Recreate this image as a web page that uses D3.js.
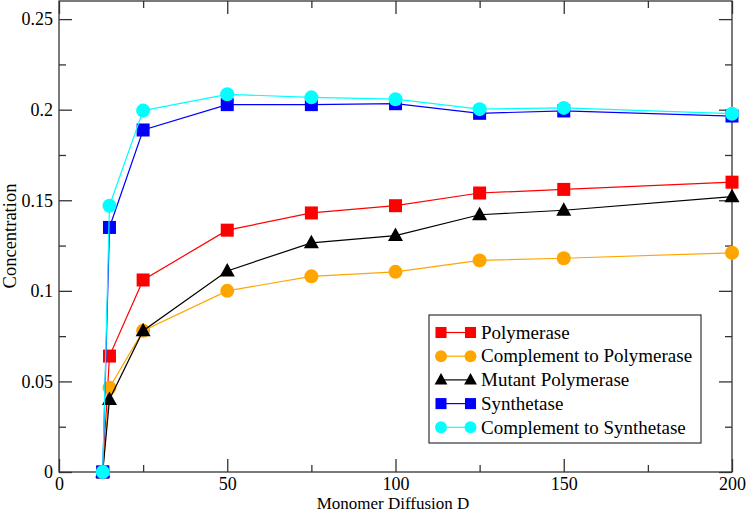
<!DOCTYPE html>
<html><head><meta charset="utf-8">
<script src="https://cdn.jsdelivr.net/npm/d3@7"></script>
<style>body{margin:0;background:#fff}svg{display:block}svg text{font-family:"Liberation Serif",Times,"Times New Roman",serif !important}</style>
</head><body><svg id="c" width="747" height="513"></svg>
<script>
const xValues = [13, 15, 25, 50, 75, 100, 125, 150, 200];
const polymerase = [0, 0.064, 0.106, 0.1335, 0.143, 0.147, 0.154, 0.156, 0.160];
const complementPolymerase = [0, 0.0465, 0.078, 0.100, 0.108, 0.1105, 0.1168, 0.118, 0.121];
const mutantPolymerase = [0, 0.040, 0.078, 0.111, 0.1265, 0.1305, 0.142, 0.1445, 0.152];
const synthetase = [0, 0.135, 0.1888, 0.2028, 0.2028, 0.2033, 0.198, 0.1993, 0.1965];
const complementSynthetase = [0, 0.147, 0.1995, 0.2085, 0.2068, 0.2058, 0.2003, 0.201, 0.1978];
const seriesNames = ["Polymerase", "Complement to Polymerase", "Mutant Polymerase", "Synthetase", "Complement to Synthetase"];
const seriesColors = ["#ff0000", "#ffa500", "#000000", "#0000ff", "#00ffff"];
const seriesShapes = ["square", "circle", "triangle", "square", "circle"];
const xTicks = [0, 50, 100, 150, 200];
const yTicks = [0, 0.05, 0.1, 0.15, 0.2, 0.25];

const seriesData = [polymerase, complementPolymerase, mutantPolymerase, synthetase, complementSynthetase];
const svg = d3.select("#c");
const L = 59, R = 732, T = 1, B = 472;
const x = d3.scaleLinear().domain([0, 200]).range([L, R]);
const y = d3.scaleLinear().domain([0, 0.26]).range([B, T]);
const axisColor = "#333";
const FONT = "Liberation Serif, Times, serif";

// frame
svg.append("rect").attr("x", L).attr("y", T).attr("width", R - L).attr("height", B - T)
  .attr("fill", "none").attr("stroke", axisColor).attr("stroke-width", 1.3);

const xMinor = d3.range(25, 200, 50);
const yMinor = d3.range(0.025, 0.26, 0.05);
function ticks(axisFn, scale, major, minor, tx, fmt) {
  const gMaj = svg.append("g").attr("transform", tx).call(axisFn(scale).tickValues(major).tickSize(13).tickFormat(fmt));
  const gMin = svg.append("g").attr("transform", tx).call(axisFn(scale).tickValues(minor).tickSize(7).tickFormat(""));
  [gMaj, gMin].forEach(g => { g.attr("font-family", FONT); g.select(".domain").remove(); g.selectAll("line").attr("stroke", axisColor).attr("stroke-width", 1.3); });
  return gMaj;
}
// bottom: ticks inward (up)
const gx = ticks(d3.axisTop, x, xTicks, xMinor, `translate(0,${B})`, d3.format("d"));
gx.selectAll("text").attr("y", 5).attr("dy", "0.71em").attr("font-size", 18).attr("fill", "#000");
// top: inward (down)
ticks(d3.axisBottom, x, xTicks, xMinor, `translate(0,${T})`, "");
// left: inward (right)
const gy = ticks(d3.axisRight, y, yTicks, yMinor, `translate(${L},0)`, d => d === 0 ? "0" : String(+d.toFixed(3)));
gy.selectAll("text").attr("x", -6).attr("text-anchor", "end").attr("font-size", 18).attr("fill", "#000");
// right: inward (left)
ticks(d3.axisLeft, y, yTicks, yMinor, `translate(${R},0)`, "");

// axis labels
svg.append("text").attr("x", 393).attr("y", 509).attr("text-anchor", "middle").attr("font-size", 17).attr("font-family", FONT).text("Monomer Diffusion D");
svg.append("text").attr("transform", `translate(16,236) rotate(-90)`).attr("text-anchor", "middle").attr("font-size", 18.5).attr("font-family", FONT).text("Concentration");

function marker(g, shape, cx, cy, color, s) {
  s = s || 1;
  if (shape === "square") g.append("rect").attr("x", cx - 6.5 * s).attr("y", cy - 6.5 * s).attr("width", 13 * s).attr("height", 13 * s).attr("fill", color);
  else if (shape === "circle") g.append("circle").attr("cx", cx).attr("cy", cy).attr("r", 7 * s).attr("fill", color);
  else g.append("path").attr("d", `M${cx},${cy - 8 * s}L${cx + 7.5 * s},${cy + 5.5 * s}L${cx - 7.5 * s},${cy + 5.5 * s}Z`).attr("fill", color);
}

const line = d3.line().x(d => x(d[0])).y(d => y(d[1]));
seriesData.forEach((vals, i) => {
  const pts = xValues.map((xv, j) => [xv, vals[j]]);
  const g = svg.append("g");
  g.append("path").attr("d", line(pts)).attr("fill", "none").attr("stroke", seriesColors[i]).attr("stroke-width", 1.2);
  pts.forEach(p => marker(g, seriesShapes[i], x(p[0]), y(p[1]), seriesColors[i]));
});

// legend
const lg = svg.append("g").attr("font-family", FONT);
lg.append("rect").attr("x", 429).attr("y", 315).attr("width", 272).attr("height", 128).attr("fill", "#fff").attr("stroke", "#333").attr("stroke-width", 1.2);
seriesNames.forEach((n, i) => {
  const ly = 332.5 + i * 23.7;
  lg.append("line").attr("x1", 441).attr("x2", 470.5).attr("y1", ly).attr("y2", ly).attr("stroke", seriesColors[i]).attr("stroke-width", 1.2);
  marker(lg, seriesShapes[i], 441, ly, seriesColors[i], 0.85);
  marker(lg, seriesShapes[i], 470.5, ly, seriesColors[i], 0.85);
  lg.append("text").attr("x", 481).attr("y", ly).attr("dy", "0.33em").attr("font-size", 19).text(n);
});
</script></body></html>
